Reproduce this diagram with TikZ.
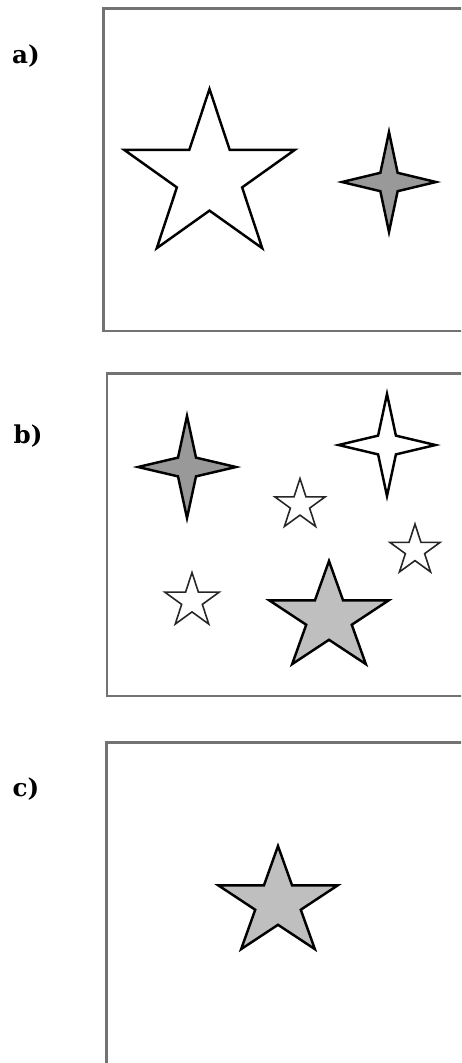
\documentclass[tikz,border=0pt]{standalone}
\usepackage{fontspec}
\setmainfont{DejaVu Serif}
\usepackage{tikz}

\tikzset{
    panel/.style={draw=black!55, line width=1.4pt},
    lbl/.style={font=\fontsize{14}{16}\selectfont\bfseries, inner sep=0pt},
    bigline/.style={draw=black, line width=1.4pt, line join=miter},
    smallline/.style={draw=black!85, line width=0.9pt, line join=miter},
    pics/fivestar/.style={code={
        \draw[pic actions] (270:#1) \foreach \i in {1,...,9}
            { -- ({270+36*\i}:{ifthenelse(mod(\i,2)==1,0.382*#1,#1)}) } -- cycle;
    }},
    pics/fourstar/.style={code={
        \draw[pic actions] (270:#1) \foreach \i in {1,...,7}
            { -- ({270+45*\i}:{ifthenelse(mod(\i,2)==1,0.26*#1,#1)}) } -- cycle;
    }}
}

\begin{document}
\begin{tikzpicture}[x=0.02cm, y=-0.02cm]
    \useasboundingbox (0,0) rectangle (461,1063);
    \clip (0,0) rectangle (461,1063);

    % panel a
    \draw[panel] (103.5,8.5) rectangle (480,331);
    \node[lbl] (labA) at (26,56.5) {a)};
    \pic[bigline, fill=white, xscale=1.02] (starA) at (209.5,177) {fivestar=88};
    \pic[bigline, fill=black!40, xscale=0.94] (sparkA) at (389,182) {fourstar=50};

    % panel b
    \draw[panel] (107,373.5) rectangle (480,696);
    \node[lbl] (labB) at (28,436.5) {b)};
    \pic[bigline, fill=black!40, xscale=0.96] (sparkB) at (187,467) {fourstar=51};
    \pic[bigline, fill=white, xscale=0.95] (sparkC) at (387,445) {fourstar=51};
    \pic[smallline, fill=white] (smallA) at (300,505) {fivestar=26.5};
    \pic[smallline, fill=white] (smallB) at (415,550.5) {fivestar=26.5};
    \pic[smallline, fill=white] (smallC) at (192,601) {fivestar=28.5};
    \pic[bigline, fill=black!25, xscale=1.1] (starB) at (329,618) {fivestar=57};

    % panel c
    \draw[panel] (106.5,742.5) rectangle (480,1100);
    \node[lbl] (labC) at (26,789) {c)};
    \pic[bigline, fill=black!25, xscale=1.1] (starC) at (278,903) {fivestar=57};

\end{tikzpicture}
\end{document}
